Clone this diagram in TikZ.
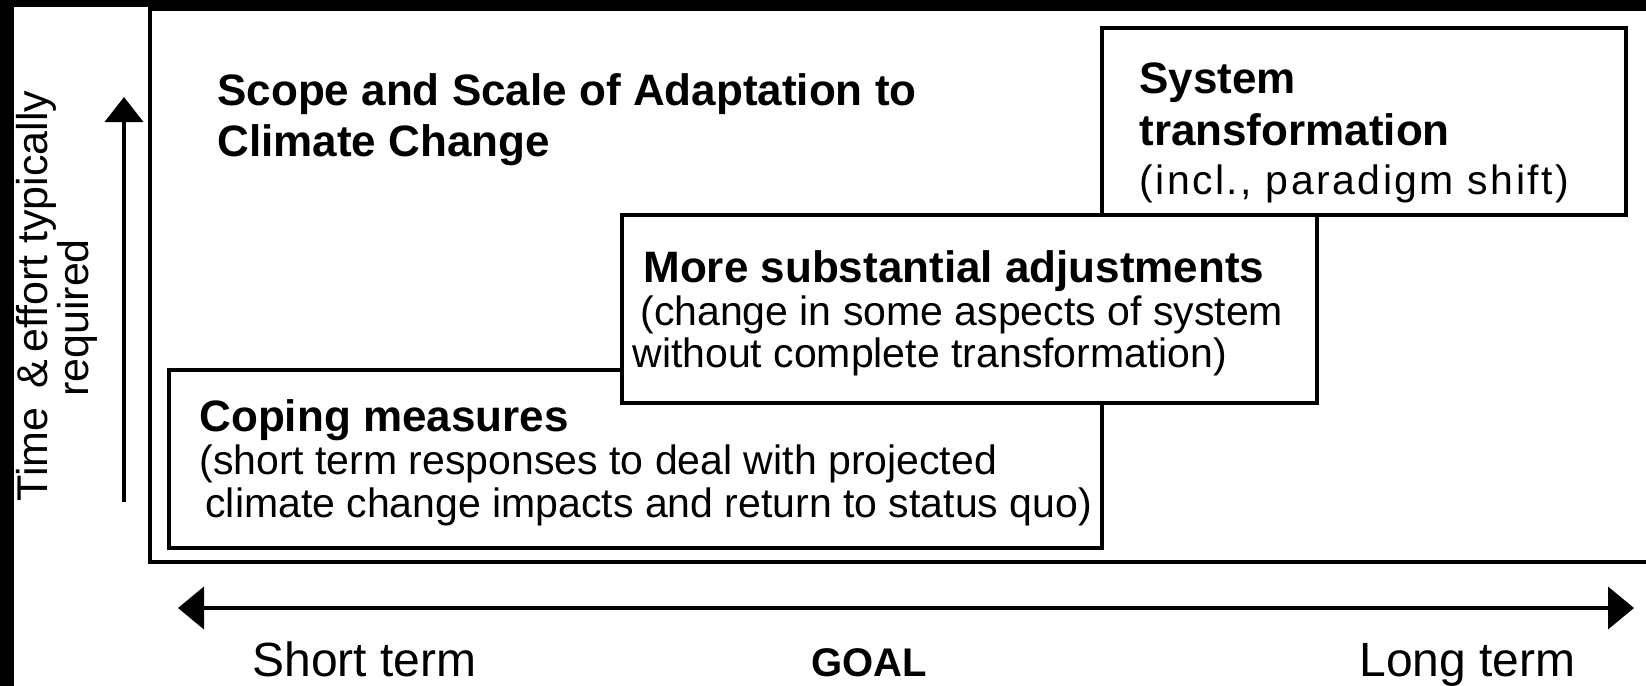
\documentclass[tikz,border=0pt]{standalone}
\usepackage{fontspec}
\setmainfont{Liberation Sans}
\usetikzlibrary{arrows.meta}
\begin{document}
\begin{tikzpicture}[x=0.5pt,y=-0.5pt,
  frameline/.style={line width=2.2pt},
  box/.style={draw, line width=2pt, fill=white, rectangle, inner sep=0pt, outer sep=0pt, anchor=north west},
  head/.style={font=\fontsize{22}{26}\selectfont\bfseries, anchor=base west, inner sep=0pt},
  body/.style={font=\fontsize{20.5}{24}\selectfont, anchor=base west, inner sep=0pt},
  axislbl/.style={font=\fontsize{24}{28}\selectfont, anchor=base west, inner sep=0pt},
  vlbl/.style={font=\fontsize{21.5}{24}\selectfont, anchor=base, rotate=90, inner sep=0pt},
  arr/.style={line width=2pt},
]
\useasboundingbox (0,0) rectangle (1646,686);
\fill[white] (0,0) rectangle (1646,686);
\clip (0,0) rectangle (1646,686);

% main frame (open to the right)
\draw[frameline] (1670,9) -- (150,9) -- (150,562) -- (1670,562);

% title
\node[head] (title1) at (217,105) {Scope and Scale of Adaptation to};
\node[head] (title2) at (217,156) {Climate Change};

% boxes
\node[box, minimum width=466.5pt, minimum height=89pt] (coping) at (169,370) {};
\node[box, minimum width=347.5pt, minimum height=94pt] (more) at (622,215) {};
\node[box, minimum width=262pt, minimum height=93.5pt] (system) at (1102,28) {};

% box texts
\node[head] (sys1) at (1139,93) {System};
\node[head] (sys2) at (1139,145) {transformation};
\node[body] (sys3) at (1139,194) {\addfontfeature{LetterSpace=6}(incl., paradigm shift)};

\node[head] (more1) at (643,282) {More substantial adjustments};
\node[body] (more2) at (640,325) {(change in some aspects of system};
\node[body] (more3) at (632,367) {without complete transformation)};

\node[head] (cop1) at (199,431) {Coping measures};
\node[body] (cop2) at (199,474) {(short term responses to deal with projected};
\node[body] (cop3) at (205,517) {climate change impacts and return to status quo)};

% vertical axis
\node[vlbl] (vtext1) at (47,296) {Time \,\&\,effort typically};
\node[vlbl] (vtext2) at (89,318) {required};
\coordinate (vb) at (124,502);
\coordinate (vt) at (124,97);
\draw[arr,-{Triangle[length=12.5pt,width=19pt]}] (vb) -- (vt);

% horizontal axis
\coordinate (hl) at (178,608);
\coordinate (hr) at (1634,608);
\draw[arr,{Triangle[length=13pt,width=21pt]}-{Triangle[length=13pt,width=21pt]}] (hl) -- (hr);
\node[axislbl] (short) at (252,676) {Short term};
\node[font=\fontsize{20}{24}\selectfont\bfseries, anchor=base, inner sep=0pt] (goal) at (869,676) {GOAL};
\node[axislbl] (long) at (1359,676) {Long term};

% black edges of the scan
\fill[black] (0,0) rectangle (1646,7);
\fill[black] (0,0) rectangle (14,686);
\end{tikzpicture}
\end{document}
